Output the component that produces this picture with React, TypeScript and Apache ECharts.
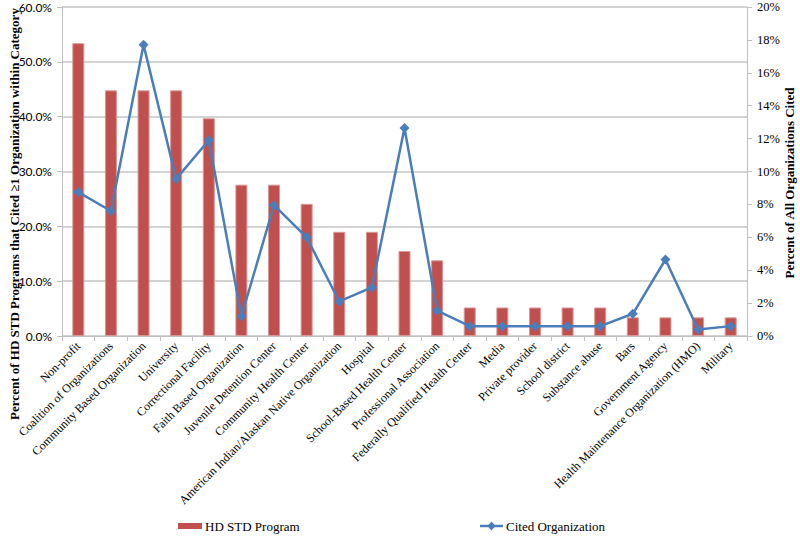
import React, { useEffect, useRef } from "react";
import * as echarts from "echarts";

const categories = [
  "Non-profit",
  "Coalition of Organizations",
  "Community Based Organization",
  "University",
  "Correctional Facility",
  "Faith Based Organization",
  "Juvenile Detention Center",
  "Community Health Center",
  "American Indian/Alaskan Native Organization",
  "Hospital",
  "School-Based Health Center",
  "Professional Association",
  "Federally Qualified Health Center",
  "Media",
  "Private provider",
  "School district",
  "Substance abuse",
  "Bars",
  "Government Agency",
  "Health Maintenance Organization (HMO)",
  "Military",
];

const hdStdProgram = [
  53.4, 44.8, 44.8, 44.8, 39.7, 27.6, 27.6, 24.1, 19.0, 19.0, 15.5, 13.8,
  5.2, 5.2, 5.2, 5.2, 5.2, 3.4, 3.4, 3.4, 3.4,
];

const citedOrganization = [
  8.75, 7.6, 17.7, 9.55, 11.9, 1.2, 7.95, 6.0, 2.1, 2.95, 12.65, 1.55,
  0.6, 0.6, 0.6, 0.6, 0.6, 1.35, 4.65, 0.4, 0.6,
];

const leftTicks = [0, 10, 20, 30, 40, 50, 60];
const rightTicks = [0, 2, 4, 6, 8, 10, 12, 14, 16, 18, 20];

const SERIES_NAMES = ["HD STD Program", "Cited Organization"];

const SERIF = "Liberation Serif";
const SANS = "Lato";
const RED = "#C0504D";
const BLUE = "#4A7EBB";

export default function App() {
  const ref = useRef<HTMLDivElement>(null);

  useEffect(() => {
    if (!ref.current) return;
    const chart = echarts.init(ref.current, null, { renderer: "svg" });
    const ly = 526;
    chart.setOption({
      animation: false,
      backgroundColor: "#ffffff",
      textStyle: { fontFamily: SERIF },
      grid: { left: 62, right: 53, top: 7, bottom: 201, containLabel: false },
      xAxis: {
        type: "category",
        data: categories,
        boundaryGap: true,
        axisLine: { lineStyle: { color: "#BFBFBF", width: 1 } },
        axisTick: { show: true, length: 5, lineStyle: { color: "#BFBFBF" }, alignWithLabel: false },
        axisLabel: {
          interval: 0,
          rotate: 45,
          fontFamily: SERIF,
          fontSize: 12,
          color: "#000",
          margin: 8,
        },
      },
      yAxis: [
        {
          type: "value",
          min: leftTicks[0],
          max: leftTicks[leftTicks.length - 1],
          interval: 10,
          position: "left",
          axisLine: { show: true, lineStyle: { color: "#BFBFBF" } },
          axisTick: { show: true, length: 5, lineStyle: { color: "#BFBFBF" } },
          axisLabel: {
            fontFamily: SANS,
            fontSize: 12,
            color: "#000",
            margin: 10,
            formatter: (v: number) => v.toFixed(1) + "%",
          },
          splitLine: { show: true, lineStyle: { color: "#C4C4C4", width: 1.5 } },
        },
        {
          type: "value",
          min: rightTicks[0],
          max: rightTicks[rightTicks.length - 1],
          interval: 2,
          position: "right",
          axisLine: { show: true, lineStyle: { color: "#BFBFBF" } },
          axisTick: { show: true, length: 5, lineStyle: { color: "#BFBFBF" } },
          axisLabel: {
            fontFamily: SERIF,
            fontSize: 12.5,
            color: "#000",
            margin: 10,
            formatter: (v: number) => v + "%",
          },
          splitLine: { show: false },
        },
      ],
      series: [
        {
          name: SERIES_NAMES[0],
          type: "bar",
          yAxisIndex: 0,
          data: hdStdProgram,
          barWidth: 12,
          itemStyle: { color: RED, borderColor: "#D99795", borderWidth: 1 },
        },
        {
          name: SERIES_NAMES[1],
          type: "line",
          yAxisIndex: 1,
          data: citedOrganization,
          symbol: "diamond",
          symbolSize: 10,
          lineStyle: { color: BLUE, width: 2.5 },
          itemStyle: { color: BLUE },
        },
      ],
      graphic: [
        {
          type: "text",
          x: 14,
          y: 214,
          rotation: Math.PI / 2,
          style: {
            text: "Percent of HD STD Programs that Cited \u22651 Organization within Category",
            fontFamily: SERIF,
            fontWeight: "bold",
            fontSize: 13,
            fill: "#000",
            textAlign: "center",
            textVerticalAlign: "middle",
          },
        },
        {
          type: "text",
          x: 789,
          y: 183,
          rotation: Math.PI / 2,
          style: {
            text: "Percent of All Organizations Cited",
            fontFamily: SERIF,
            fontWeight: "bold",
            fontSize: 13,
            fill: "#000",
            textAlign: "center",
            textVerticalAlign: "middle",
          },
        },
        // legend: bar series
        {
          type: "rect",
          shape: { x: 178, y: ly - 3, width: 24, height: 6 },
          style: { fill: RED },
        },
        {
          type: "text",
          x: 205,
          y: ly,
          style: {
            text: SERIES_NAMES[0],
            fontFamily: SERIF,
            fontSize: 13,
            fill: "#000",
            textAlign: "left",
            textVerticalAlign: "middle",
          },
        },
        // legend: line series
        {
          type: "line",
          shape: { x1: 480, y1: ly, x2: 503, y2: ly },
          style: { stroke: BLUE, lineWidth: 2.5 },
        },
        {
          type: "polygon",
          shape: {
            points: [
              [491.5, ly - 4.5],
              [495.5, ly],
              [491.5, ly + 4.5],
              [487.5, ly],
            ],
          },
          style: { fill: BLUE },
        },
        {
          type: "text",
          x: 506,
          y: ly,
          style: {
            text: SERIES_NAMES[1],
            fontFamily: SERIF,
            fontSize: 13,
            fill: "#000",
            textAlign: "left",
            textVerticalAlign: "middle",
          },
        },
      ],
    });
    return () => chart.dispose();
  }, []);

  return (
    <div
      ref={ref}
      style={{ position: "absolute", left: 0, top: 0, width: 800, height: 537 }}
    />
  );
}
